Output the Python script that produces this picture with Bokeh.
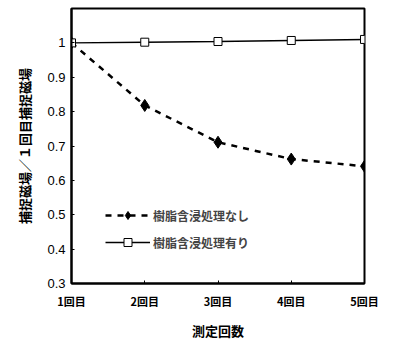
from bokeh.plotting import figure
from bokeh.models import FixedTicker, Range1d, Legend, LegendItem
from bokeh.embed import file_html
from bokeh.resources import INLINE

categories = ["1回目", "2回目", "3回目", "4回目", "5回目"]
untreated = [1.0, 0.818, 0.711, 0.662, 0.641]
treated = [1.0, 1.002, 1.004, 1.007, 1.01]
y_ticks = [0.3, 0.4, 0.5, 0.6, 0.7, 0.8, 0.9, 1.0]
y_tick_labels = ["0.3", "0.4", "0.5", "0.6", "0.7", "0.8", "0.9", "1"]
name_untreated = "樹脂含浸処理なし"
name_treated = "樹脂含浸処理有り"

xs = list(range(len(categories)))

JP = "Noto Sans CJK JP"

p = figure(width=396, height=353, output_backend="svg", toolbar_location=None,
           x_range=Range1d(0, len(categories) - 1), y_range=Range1d(0.3, 1.1),
           min_border_left=71, min_border_right=32, min_border_top=8, min_border_bottom=70)
p.background_fill_color = "white"
p.border_fill_color = "white"
p.outline_line_color = "black"
p.outline_line_width = 2
p.xgrid.visible = False
p.ygrid.visible = False

r1 = p.line(xs, untreated, line_color="black", line_width=2.5, line_dash="6 6")
s1 = p.scatter(xs, untreated, marker="diamond", size=12, fill_color="black", line_color="black")
r2 = p.line(xs, treated, line_color="black", line_width=1.5)
s2 = p.scatter(xs, treated, marker="square", size=8, fill_color="white", line_color="black", line_width=1)

legend = Legend(items=[LegendItem(label=name_untreated, renderers=[r1, s1]),
                       LegendItem(label=name_treated, renderers=[r2, s2])],
                location=(34, 31), padding=0, margin=0, spacing=7,
                glyph_width=45, glyph_height=20, label_standoff=3,
                border_line_color=None, background_fill_alpha=0,
                label_text_font=JP, label_text_font_size="12px", label_text_font_style="bold")
p.add_layout(legend, "center")

p.xaxis.ticker = FixedTicker(ticks=xs)
p.xaxis.major_label_overrides = {i: c for i, c in zip(xs, categories)}
p.xaxis.major_label_text_font = JP
p.xaxis.major_label_text_font_style = "bold"
p.xaxis.major_label_text_font_size = "11px"
p.xaxis.major_label_standoff = 9
p.xaxis.axis_label = "測定回数"
p.xaxis.axis_label_text_font = JP
p.xaxis.axis_label_text_font_style = "bold"
p.xaxis.axis_label_text_font_size = "13px"
p.xaxis.axis_label_standoff = 9

p.yaxis.ticker = FixedTicker(ticks=y_ticks)
p.yaxis.major_label_overrides = {t: l for t, l in zip(y_ticks, y_tick_labels)}
p.yaxis.major_label_text_font = "Liberation Sans"
p.yaxis.major_label_text_font_size = "13px"
p.yaxis.major_label_standoff = 6
p.yaxis.axis_label = "捕捉磁場／１回目捕捉磁場"
p.yaxis.axis_label_text_font = JP
p.yaxis.axis_label_text_font_style = "bold"
p.yaxis.axis_label_text_font_size = "13px"
p.yaxis.axis_label_standoff = 10

for ax in (p.xaxis, p.yaxis):
    ax.axis_line_color = "black"
    ax.axis_line_width = 2
    ax.major_tick_in = 3
    ax.major_tick_out = 0
    ax.minor_tick_line_color = None
    ax.major_label_text_color = "black"
    ax.axis_label_text_color = "black"

open("out.html", "w").write(file_html(p, INLINE))
